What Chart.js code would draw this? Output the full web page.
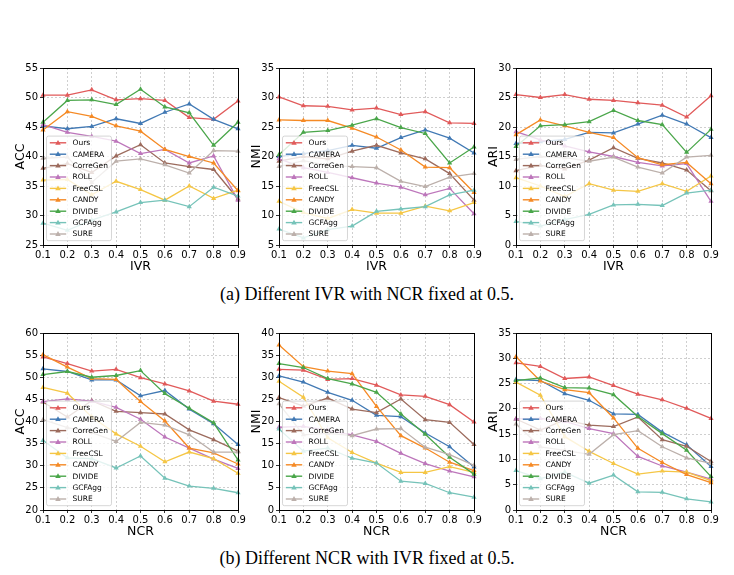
<!DOCTYPE html>
<html>
<head>
<meta charset="utf-8">
<script src="https://cdn.jsdelivr.net/npm/chart.js@4"></script>
<style>
  body { margin: 0; background: #fff; }
  #page { position: relative; width: 734px; height: 575px; overflow: hidden; background: #fff; }
  #page canvas { position: absolute; }
  .caption {
    position: absolute; left: 0; width: 734px; text-align: center;
    font-family: "Liberation Serif", "Times New Roman", serif; font-size: 18px; color: #000;
  }
</style>
</head>
<body>
<div id="page">
  <canvas id="c0" width="250" height="222" style="left:0px;top:55px"></canvas>
  <canvas id="c1" width="250" height="222" style="left:236px;top:55px"></canvas>
  <canvas id="c2" width="250" height="222" style="left:473px;top:55px"></canvas>
  <div class="caption" style="top:284px">(a) Different IVR with NCR fixed at 0.5.</div>
  <canvas id="c3" width="250" height="222" style="left:0px;top:320px"></canvas>
  <canvas id="c4" width="250" height="222" style="left:236px;top:320px"></canvas>
  <canvas id="c5" width="250" height="222" style="left:473px;top:320px"></canvas>
  <div class="caption" style="top:548px">(b) Different NCR with IVR fixed at 0.5.</div>
</div>
<script>
// Methods and x tick labels
const methods = ['Ours', 'CAMERA', 'CorreGen', 'ROLL', 'FreeCSL', 'CANDY', 'DIVIDE', 'GCFAgg', 'SURE'];
const ratioLabels = ['0.1', '0.2', '0.3', '0.4', '0.5', '0.6', '0.7', '0.8', '0.9'];

// Each row follows the order of methods
const accIvr = [
  [50.4, 50.4, 51.3, 49.6, 49.8, 49.5, 46.6, 46.3, 49.4],
  [45.2, 44.7, 45.1, 46.4, 45.6, 47.5, 48.9, 46.3, 44.7],
  [38.0, 38.8, 37.3, 40.1, 42.0, 38.9, 38.3, 37.8, 32.8],
  [45.4, 44.1, 43.4, 42.6, 40.5, 41.2, 38.9, 40.1, 32.6],
  [36.0, 36.1, 33.5, 35.8, 34.4, 32.6, 35.0, 32.9, 34.3],
  [44.5, 47.6, 46.8, 45.2, 44.3, 41.2, 40.0, 38.9, 34.2],
  [45.8, 49.5, 49.6, 48.8, 51.4, 48.4, 47.4, 41.9, 45.8],
  [28.7, 27.5, 29.2, 30.6, 32.2, 32.6, 31.5, 34.8, 33.3],
  [39.7, 39.9, 35.6, 39.2, 39.6, 38.6, 37.2, 41.0, 40.9]
];
const nmiIvr = [
  [30.1, 28.6, 28.5, 27.9, 28.2, 27.1, 27.6, 25.7, 25.6],
  [20.0, 20.5, 21.0, 21.9, 21.4, 23.2, 24.5, 23.1, 20.6],
  [19.2, 20.0, 19.6, 20.9, 21.9, 20.6, 19.6, 17.1, 12.6],
  [19.6, 18.1, 17.3, 16.4, 15.5, 14.8, 13.5, 14.6, 10.3],
  [12.4, 10.5, 9.5, 11.0, 10.4, 10.4, 11.6, 10.8, 12.2],
  [26.2, 26.1, 26.1, 24.8, 23.3, 21.1, 18.2, 18.1, 13.9],
  [20.3, 24.1, 24.4, 25.3, 26.4, 24.9, 23.9, 18.9, 21.6],
  [7.7, 6.2, 7.6, 8.2, 10.7, 11.1, 11.5, 13.5, 14.3],
  [18.3, 19.3, 18.5, 18.3, 18.1, 15.8, 14.9, 16.5, 17.1]
];
const ariIvr = [
  [25.5, 25.0, 25.5, 24.7, 24.5, 24.1, 23.7, 21.7, 25.3],
  [17.2, 17.5, 17.9, 19.1, 19.0, 20.5, 22.0, 20.5, 18.2],
  [12.6, 13.5, 12.9, 14.4, 16.5, 14.7, 13.9, 12.7, 9.2],
  [19.2, 17.8, 16.8, 15.8, 15.0, 14.0, 13.4, 13.8, 7.4],
  [11.4, 10.0, 8.2, 10.4, 9.3, 9.1, 10.4, 9.1, 11.7],
  [18.7, 21.2, 20.2, 19.1, 18.2, 14.8, 13.6, 14.0, 10.4],
  [16.7, 20.2, 20.4, 20.9, 22.8, 21.1, 20.4, 15.7, 19.6],
  [4.0, 3.2, 4.3, 5.2, 6.8, 6.9, 6.7, 8.8, 9.3],
  [14.5, 15.0, 14.8, 14.2, 14.9, 13.2, 12.2, 14.9, 15.2]
];
const accNcr = [
  [54.6, 53.1, 51.4, 51.8, 49.9, 48.5, 46.9, 44.6, 43.9],
  [51.9, 51.3, 49.4, 49.4, 45.8, 47.0, 42.8, 39.5, 34.8],
  [44.4, 41.0, 44.7, 42.3, 42.0, 41.7, 38.1, 35.9, 33.3],
  [44.5, 45.1, 44.6, 43.2, 40.5, 36.5, 34.0, 31.5, 29.4],
  [47.7, 46.4, 41.0, 37.2, 34.4, 30.9, 33.1, 31.6, 28.3],
  [55.1, 52.3, 49.7, 49.5, 44.5, 40.1, 34.0, 32.9, 30.4],
  [50.6, 51.3, 50.0, 50.4, 51.5, 46.3, 43.0, 39.7, 31.3],
  [35.7, 31.8, 31.6, 29.5, 32.2, 27.2, 25.4, 24.9, 23.9],
  [40.4, 38.6, 37.5, 35.5, 39.8, 39.2, 37.0, 33.1, 33.1]
];
const nmiNcr = [
  [31.8, 31.6, 29.5, 29.7, 28.2, 26.0, 25.7, 23.8, 19.9],
  [30.3, 28.9, 26.6, 24.8, 21.4, 21.1, 17.4, 14.3, 9.7],
  [25.4, 23.5, 25.3, 22.8, 22.0, 25.1, 20.4, 19.8, 14.8],
  [18.7, 18.9, 18.0, 17.0, 15.5, 12.8, 10.5, 8.8, 7.5],
  [29.1, 25.5, 16.3, 13.0, 10.6, 8.5, 8.5, 9.8, 8.5],
  [37.3, 32.4, 31.4, 30.8, 23.4, 16.8, 14.0, 10.8, 8.9],
  [33.1, 32.2, 29.7, 28.5, 26.6, 21.7, 17.1, 11.9, 8.1],
  [18.3, 13.3, 14.0, 11.7, 10.6, 6.5, 6.0, 3.9, 2.9],
  [24.0, 17.0, 17.3, 16.8, 18.3, 18.4, 14.2, 12.5, 10.1]
];
const ariNcr = [
  [29.1, 28.4, 26.0, 26.3, 24.6, 22.9, 21.8, 20.1, 18.1],
  [25.8, 25.6, 23.0, 21.7, 19.0, 18.9, 15.4, 12.9, 8.6],
  [18.0, 15.8, 17.8, 16.8, 16.5, 18.4, 13.9, 12.6, 9.6],
  [18.0, 18.1, 17.5, 16.1, 15.1, 10.6, 8.7, 7.5, 6.1],
  [25.3, 22.7, 14.5, 11.6, 9.2, 7.1, 7.7, 7.5, 5.8],
  [30.3, 25.5, 23.8, 23.2, 18.2, 12.2, 9.4, 7.0, 5.4],
  [25.6, 26.1, 24.2, 24.1, 22.8, 18.5, 15.1, 11.8, 6.6],
  [7.8, 6.2, 7.5, 5.3, 6.9, 3.6, 3.5, 2.2, 1.6],
  [17.0, 12.5, 11.8, 11.0, 14.9, 15.7, 12.5, 10.3, 9.2]
];

const colors = ['#e15a5a', '#4179b4', '#9c6b5d', '#bd76bb', '#f5c645', '#f58a25', '#4aa64a', '#76c3b9', '#bcb0ab'];

const panels = [
  { id: 'c0', values: accIvr, yTitle: 'ACC', xTitle: 'IVR', min: 25, max: 55 },
  { id: 'c1', values: nmiIvr, yTitle: 'NMI', xTitle: 'IVR', min: 5, max: 35 },
  { id: 'c2', values: ariIvr, yTitle: 'ARI', xTitle: 'IVR', min: 0, max: 30 },
  { id: 'c3', values: accNcr, yTitle: 'ACC', xTitle: 'NCR', min: 20, max: 60 },
  { id: 'c4', values: nmiNcr, yTitle: 'NMI', xTitle: 'NCR', min: 0, max: 40 },
  { id: 'c5', values: ariNcr, yTitle: 'ARI', xTitle: 'NCR', min: 0, max: 35 }
];

const baseFont = '"DejaVu Sans", sans-serif';

function drawTriangle(ctx, x, y, r, color) {
  ctx.beginPath();
  ctx.moveTo(x, y - r);
  ctx.lineTo(x + r * Math.sin(Math.PI * 2 / 3), y + r * 0.5);
  ctx.lineTo(x - r * Math.sin(Math.PI * 2 / 3), y + r * 0.5);
  ctx.closePath();
  ctx.fillStyle = color;
  ctx.fill();
}

// Black frame round the plot and a matplotlib-like legend in the lower left
const frameAndLegend = {
  id: 'frameAndLegend',
  afterDatasetsDraw(chart) {
    const { ctx, chartArea: a } = chart;
    ctx.save();
    ctx.strokeStyle = '#000';
    ctx.lineWidth = 1;
    const l = Math.round(a.left - 0.5) + 0.5, r = Math.round(a.right - 0.5) + 0.5;
    const t = Math.round(a.top - 0.5) + 0.5, b = Math.round(a.bottom - 0.5) + 0.5;
    ctx.strokeRect(l, t, r - l, b - t);

    ctx.font = '7.5px ' + baseFont;
    const rowH = 11.4;
    const textW = Math.max(...methods.map(m => ctx.measureText(m).width));
    const boxW = 26 + textW + 3.5;
    const boxH = rowH * methods.length + 2;
    const x0 = a.left + 3.5;
    const y0 = a.bottom - 4.3 - boxH;
    ctx.beginPath();
    ctx.roundRect(x0, y0, boxW, boxH, 2);
    ctx.fillStyle = 'rgba(255,255,255,0.8)';
    ctx.fill();
    ctx.strokeStyle = '#cccccc';
    ctx.lineWidth = 0.8;
    ctx.stroke();

    ctx.textBaseline = 'middle';
    methods.forEach((m, i) => {
      const cy = y0 + 6.7 + i * rowH;
      ctx.strokeStyle = colors[i];
      ctx.lineWidth = 1.4;
      ctx.beginPath();
      ctx.moveTo(x0 + 3.3, cy);
      ctx.lineTo(x0 + 19.7, cy);
      ctx.stroke();
      drawTriangle(ctx, x0 + 11.5, cy + 0.3, 3.2, colors[i]);
      ctx.fillStyle = '#000';
      ctx.fillText(m, x0 + 26, cy + 0.5);
    });
    ctx.restore();
  }
};

function makeChart(p) {
  const datasets = methods.map((m, i) => ({
    label: m,
    data: p.values[i],
    borderColor: colors[i],
    backgroundColor: colors[i],
    borderWidth: 1.3,
    pointStyle: 'triangle',
    pointRadius: 3,
    pointBorderWidth: 0,
    tension: 0,
    order: methods.length - i
  }));

  new Chart(document.getElementById(p.id), {
    type: 'line',
    data: { labels: ratioLabels, datasets: datasets },
    options: {
      responsive: false,
      animation: false,
      devicePixelRatio: 1,
      layout: { padding: { left: 0, top: 13, right: 12, bottom: 0 } },
      plugins: { legend: { display: false }, tooltip: { enabled: false } },
      scales: {
        x: {
          type: 'category',
          offset: false,
          grid: { color: 'rgba(0,0,0,0.24)', lineWidth: 0.8, tickColor: '#000', tickLength: 3, offset: false },
          border: { display: false, dash: [2, 2] },
          ticks: { color: '#000', font: { family: baseFont, size: 10 }, padding: 1, maxRotation: 0, autoSkip: false },
          title: { display: true, text: p.xTitle, color: '#000', font: { family: baseFont, size: 12.5 }, padding: { top: 0, bottom: 3 } },
          afterFit: (scale) => { scale.height = 32; }
        },
        y: {
          min: p.min,
          max: p.max,
          grid: { color: 'rgba(0,0,0,0.24)', lineWidth: 0.8, tickColor: '#000', tickLength: 3 },
          border: { display: false, dash: [2, 2] },
          ticks: { stepSize: 5, color: '#000', font: { family: baseFont, size: 10 }, padding: 2 },
          title: { display: true, text: p.yTitle, color: '#000', font: { family: baseFont, size: 12.5 }, padding: { top: 13, bottom: 0 } },
          afterFit: (scale) => { scale.width = 43; }
        }
      }
    },
    plugins: [frameAndLegend]
  });
}

panels.forEach(makeChart);
</script>
</body>
</html>
